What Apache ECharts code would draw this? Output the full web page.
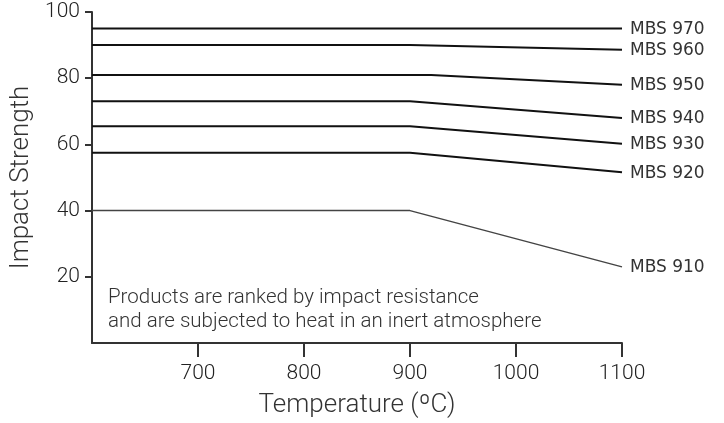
<!DOCTYPE html>
<html><head><meta charset="utf-8">
<script src="https://cdn.jsdelivr.net/npm/echarts@6/dist/echarts.min.js"></script>
<style>html,body{margin:0;padding:0;background:#fff}#c{width:724px;height:423px}</style>
</head><body><div id="c"></div>
<script>
const seriesNames = ['MBS 970','MBS 960','MBS 950','MBS 940','MBS 930','MBS 920','MBS 910'];
const startTemp = 600;
const endTemp = 1100;
const bendTemps = [900, 900, 920, 900, 900, 900, 900];
const flatValues = [95, 90, 81, 73, 65.5, 57.5, 40];
const endValues = [95, 88.6, 78, 68, 60.2, 51.6, 23];
const xTicks = [700, 800, 900, 1000, 1100];
const yTicks = [20, 40, 60, 80, 100];
const noteLines = ['Products are ranked by impact resistance', 'and are subjected to heat in an inert atmosphere'];

const FONT = 'Roboto';
const chart = echarts.init(document.getElementById('c'));
const series = seriesNames.map((n, i) => ({
  type: 'line', name: n, symbol: 'none', silent: true,
  data: [[startTemp, flatValues[i]], [bendTemps[i], flatValues[i]], [endTemp, endValues[i]]],
  lineStyle: { color: i === 6 ? '#444' : '#111', width: i === 6 ? 1.5 : 2 },
  endLabel: { show: true, formatter: '{a}', color: '#333', fontFamily: 'DejaVu Sans', fontSize: 17, offset: [0, 1] }
}));
chart.setOption({
  animation: false,
  grid: { left: 92, right: 102, top: 12, bottom: 74 },
  xAxis: {
    type: 'value', min: startTemp, max: endTemp, interval: 100,
    axisLine: { show: true, lineStyle: { color: '#333', width: 2 } },
    axisTick: { show: true, customValues: xTicks, length: 14, lineStyle: { color: '#333', width: 2 } },
    axisLabel: { customValues: xTicks, formatter: v => String(v), color: '#222', fontFamily: FONT, fontWeight: 300, fontSize: 21, margin: 20 },
    splitLine: { show: false },
    name: 'Temperature (ºC)', nameLocation: 'middle', nameGap: 49,
    nameTextStyle: { color: '#333', fontFamily: FONT, fontWeight: 300, fontSize: 26 }
  },
  yAxis: {
    type: 'value', min: 0, max: 100, interval: 20,
    axisLine: { show: true, lineStyle: { color: '#333', width: 2 } },
    axisTick: { show: true, customValues: yTicks, length: 7, lineStyle: { color: '#333', width: 2 } },
    axisLabel: { customValues: yTicks, color: '#222', fontFamily: FONT, fontWeight: 300, fontSize: 21, margin: 12 },
    splitLine: { show: false },
    name: 'Impact Strength', nameLocation: 'middle', nameGap: 53,
    nameTextStyle: { color: '#333', fontFamily: FONT, fontWeight: 300, fontSize: 26 }
  },
  graphic: [{
    type: 'text', left: 108, top: 286,
    style: { text: noteLines.join('\n'), fill: '#333', font: '300 20.5px Roboto', lineHeight: 24 }
  }],
  series
});
</script></body></html>
